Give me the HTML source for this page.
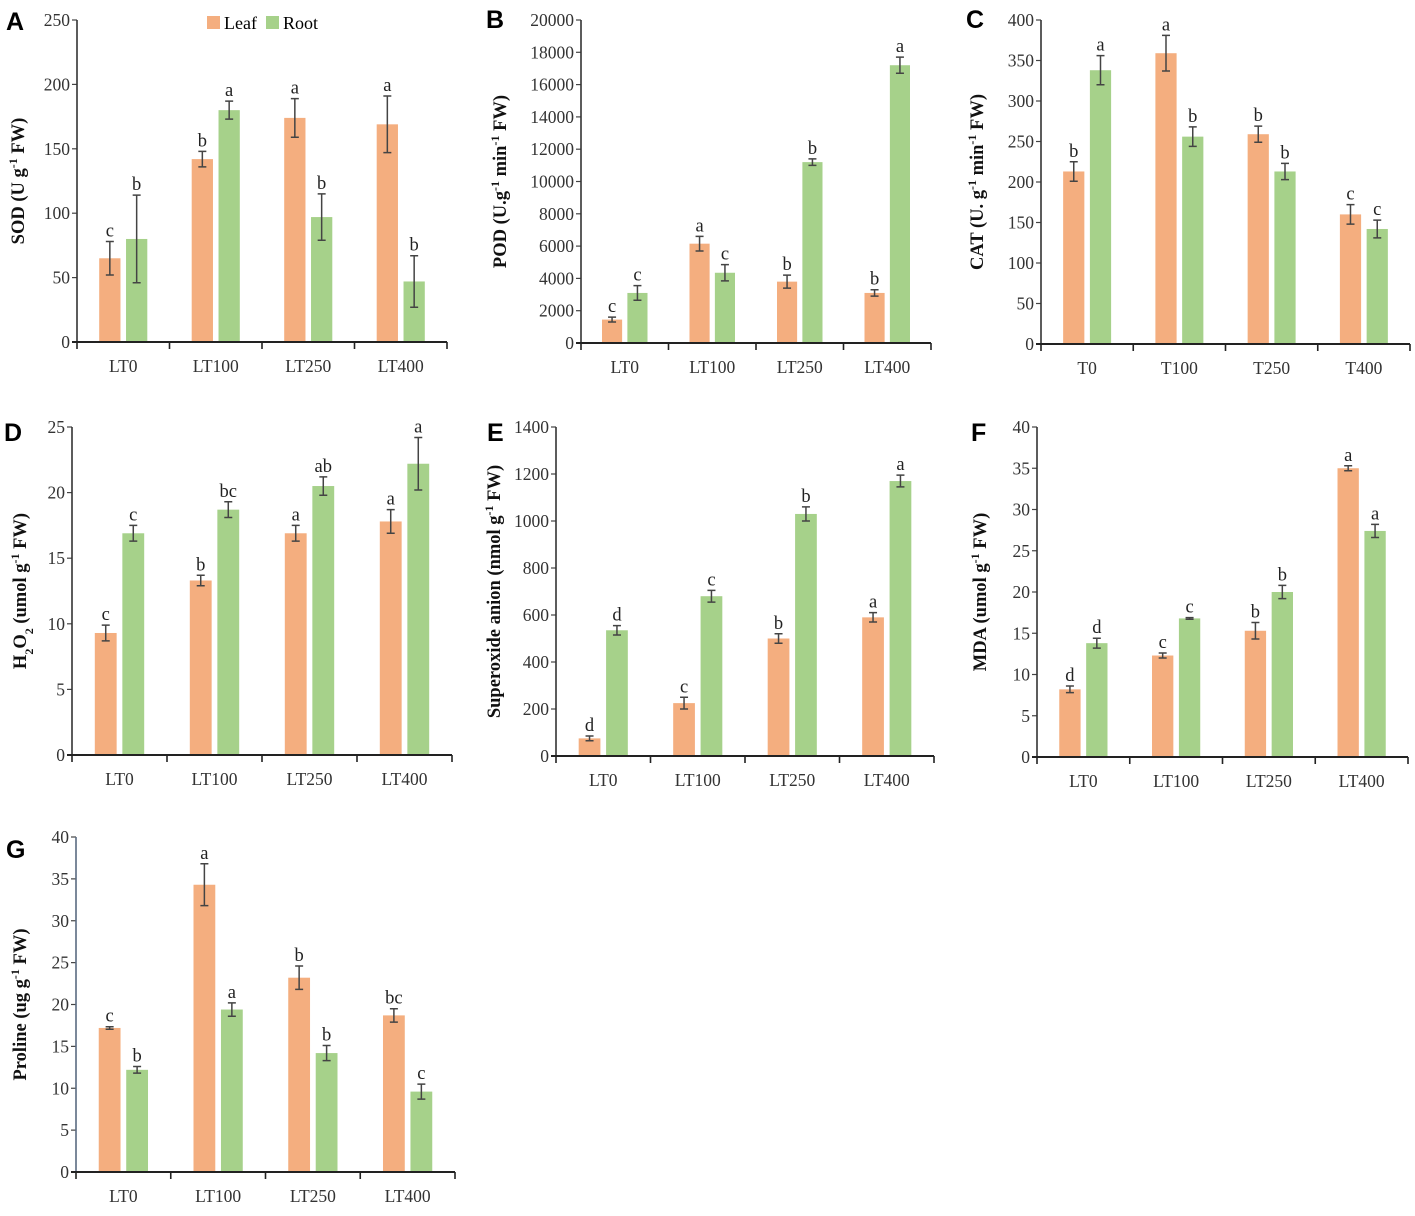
<!DOCTYPE html>
<html><head><meta charset="utf-8"><style>
html,body{margin:0;padding:0;background:#fff;}
svg{display:block;font-family:"Liberation Serif",serif;}
.pl{font-family:"Liberation Sans",sans-serif;font-weight:bold;font-size:25px;}
.tk{font-size:17.5px;fill:#333;font-family:"Liberation Serif",serif;}
.yt{font-size:18.5px;font-weight:bold;fill:#111;font-family:"Liberation Serif",serif;}
.sig{font-size:18.5px;fill:#222;font-family:"Liberation Serif",serif;}
</style></head><body>
<svg id="fig" width="1415" height="1216" viewBox="0 0 1415 1216">
<g>
<rect x="207" y="16" width="13" height="13" fill="#F4AE7F"/>
<text x="224" y="29" font-size="18">Leaf</text>
<rect x="266" y="16" width="13" height="13" fill="#A6D18A"/>
<text x="283" y="29" font-size="18">Root</text>
</g>
</svg>
<script>
const LT = ["LT0","LT100","LT250","LT400"];
const cCats = ["T0","T100","T250","T400"];

const aTicks = [0,50,100,150,200,250];
const aLeaf = [65,142,174,169];
const aLeafErr = [13,6,15,22];
const aRoot = [80,180,97,47];
const aRootErr = [34,7,18,20];
const aLeafSig = ["c","b","a","a"];
const aRootSig = ["b","a","b","b"];

const bTicks = [0,2000,4000,6000,8000,10000,12000,14000,16000,18000,20000];
const bLeaf = [1450,6150,3800,3100];
const bLeafErr = [150,450,400,200];
const bRoot = [3100,4350,11200,17200];
const bRootErr = [450,500,200,500];
const bLeafSig = ["c","a","b","b"];
const bRootSig = ["c","c","b","a"];

const cTicks = [0,50,100,150,200,250,300,350,400];
const cLeaf = [213,359,259,160];
const cLeafErr = [12,22,10,12];
const cRoot = [338,256,213,142];
const cRootErr = [18,12,10,11];
const cLeafSig = ["b","a","b","c"];
const cRootSig = ["a","b","b","c"];

const dTicks = [0,5,10,15,20,25];
const dLeaf = [9.3,13.3,16.9,17.8];
const dLeafErr = [0.6,0.4,0.6,0.9];
const dRoot = [16.9,18.7,20.5,22.2];
const dRootErr = [0.6,0.6,0.7,2.0];
const dLeafSig = ["c","b","a","a"];
const dRootSig = ["c","bc","ab","a"];

const eTicks = [0,200,400,600,800,1000,1200,1400];
const eLeaf = [75,225,500,590];
const eLeafErr = [10,25,20,20];
const eRoot = [535,680,1030,1170];
const eRootErr = [20,25,30,25];
const eLeafSig = ["d","c","b","a"];
const eRootSig = ["d","c","b","a"];

const fTicks = [0,5,10,15,20,25,30,35,40];
const fLeaf = [8.2,12.3,15.3,35.0];
const fLeafErr = [0.4,0.3,1.0,0.3];
const fRoot = [13.8,16.8,20.0,27.4];
const fRootErr = [0.6,0.1,0.8,0.8];
const fLeafSig = ["d","c","b","a"];
const fRootSig = ["d","c","b","a"];

const gTicks = [0,5,10,15,20,25,30,35,40];
const gLeaf = [17.2,34.3,23.2,18.7];
const gLeafErr = [0.15,2.5,1.4,0.8];
const gRoot = [12.2,19.4,14.2,9.6];
const gRootErr = [0.4,0.8,0.9,0.9];
const gLeafSig = ["c","a","b","bc"];
const gRootSig = ["b","a","b","c"];

const NS="http://www.w3.org/2000/svg";
const svg=document.getElementById('fig');
function mk(tag,attrs,parent){const e=document.createElementNS(NS,tag);for(const k in attrs)e.setAttribute(k,attrs[k]);parent.appendChild(e);return e;}

function panel(p){
  const g=mk('g',{},svg);
  
  
  const max=p.ticks[p.ticks.length-1];
  const y=v=>p.y0-(v/max)*(p.y0-p.y1);
  const bw=(p.x1-p.x0)/p.cats.length;
  const xc=i=>p.x0+bw*(i+0.5);
  const w=bw*0.23, gap=bw*0.06;
  const L=mk('text',{x:p.lx,y:p.ly,class:'pl'},g);L.textContent=p.id;
  
  
  const yt=mk('text',{x:p.tx,y:(p.y0+p.y1)/2,class:'yt','text-anchor':'middle',transform:`rotate(-90 ${p.tx} ${(p.y0+p.y1)/2})`},g);
  yt.innerHTML=p.title;
  
  
  p.ticks.forEach(t=>{
    const tl=mk('line',{x1:p.x0-5,x2:p.x0,y1:y(t),y2:y(t),stroke:'#444','stroke-width':1.2},g);
    
    
    const tx=mk('text',{x:p.x0-7,y:y(t)+6,class:'tk','text-anchor':'end'},g);tx.textContent=t;
    
    
  });
  const series=[[p.leaf,p.leafErr,p.leafSig,'#F4AE7F',-gap/2-w,'leaf'],[p.root,p.rootErr,p.rootSig,'#A6D18A',gap/2,'root']];
  series.forEach(s=>{
    s[0].forEach((v,i)=>{
      const bx=xc(i)+s[4];
      const r=mk('rect',{x:bx,y:y(v),width:w,height:p.y0-y(v),fill:s[3]},g);
      
      
      const cx=bx+w/2, hi=y(v+s[1][i]), lo=y(v-s[1][i]);
      const eb=mk('path',{d:`M${cx},${hi}V${lo}M${cx-4},${hi}H${cx+4}M${cx-4},${lo}H${cx+4}`,stroke:'#444','stroke-width':1.5,fill:'none'},g);
      
      
      const st=mk('text',{x:cx,y:hi-5,class:'sig','text-anchor':'middle'},g);st.textContent=s[2][i];
      
      
    });
  });
  const ya=mk('line',{x1:p.x0,x2:p.x0,y1:p.y1,y2:p.y0,stroke:p.yc||'#333','stroke-width':1.6},g);
  
  
  const xa=mk('line',{x1:p.x0-5,x2:p.x1,y1:p.y0,y2:p.y0,stroke:'#222','stroke-width':2},g);
  
  
  for(let i=0;i<=p.cats.length;i++){
    const xt=mk('line',{x1:p.x0+bw*i,x2:p.x0+bw*i,y1:p.y0,y2:p.y0+7,stroke:'#222','stroke-width':1.6},g);
    
    
  }
  p.cats.forEach((c,i)=>{
    const t=mk('text',{x:xc(i),y:p.y0+30,class:'tk','text-anchor':'middle'},g);t.textContent=c;
    
    
  });
}
const sup=s=>`<tspan baseline-shift="super" font-size="12">${s}</tspan>`;
panel({id:'A',lx:6,ly:30,tx:24,x0:77,x1:447,y0:342,y1:20,cats:LT,ticks:aTicks,leaf:aLeaf,leafErr:aLeafErr,root:aRoot,rootErr:aRootErr,leafSig:aLeafSig,rootSig:aRootSig,title:`SOD (U g${sup('-1')} FW)`});
panel({id:'B',lx:486,ly:28,tx:506,x0:581,x1:931,y0:343,y1:20,cats:LT,ticks:bTicks,leaf:bLeaf,leafErr:bLeafErr,root:bRoot,rootErr:bRootErr,leafSig:bLeafSig,rootSig:bRootSig,title:`POD (U.g${sup('-1')} min${sup('-1')} FW)`});
panel({id:'C',lx:966,ly:28,tx:983,x0:1041,x1:1410,y0:344,y1:20,cats:cCats,ticks:cTicks,leaf:cLeaf,leafErr:cLeafErr,root:cRoot,rootErr:cRootErr,leafSig:cLeafSig,rootSig:cRootSig,title:`CAT (U. g${sup('-1')} min${sup('-1')} FW)`});
panel({id:'D',lx:4,ly:441,tx:26,x0:72,x1:452,y0:755,y1:427,cats:LT,ticks:dTicks,leaf:dLeaf,leafErr:dLeafErr,root:dRoot,rootErr:dRootErr,leafSig:dLeafSig,rootSig:dRootSig,title:`H<tspan baseline-shift="sub" font-size="12">2</tspan>O<tspan baseline-shift="sub" font-size="12">2</tspan> (umol g${sup('-1')} FW)`});
panel({id:'E',lx:487,ly:441,tx:500,x0:556,x1:934,y0:756,y1:427,cats:LT,ticks:eTicks,leaf:eLeaf,leafErr:eLeafErr,root:eRoot,rootErr:eRootErr,leafSig:eLeafSig,rootSig:eRootSig,title:`Superoxide anion (nmol g${sup('-1')} FW)`});
panel({id:'F',lx:971,ly:441,tx:986,x0:1037,x1:1408,y0:757,y1:427,cats:LT,ticks:fTicks,leaf:fLeaf,leafErr:fLeafErr,root:fRoot,rootErr:fRootErr,leafSig:fLeafSig,rootSig:fRootSig,title:`MDA (umol g${sup('-1')} FW)`});
panel({id:'G',lx:6,ly:858,tx:26,x0:76,x1:455,y0:1172,y1:837,yc:'#5a6b80',cats:LT,ticks:gTicks,leaf:gLeaf,leafErr:gLeafErr,root:gRoot,rootErr:gRootErr,leafSig:gLeafSig,rootSig:gRootSig,title:`Proline (ug g${sup('-1')} FW)`});
</script>
</body></html>
